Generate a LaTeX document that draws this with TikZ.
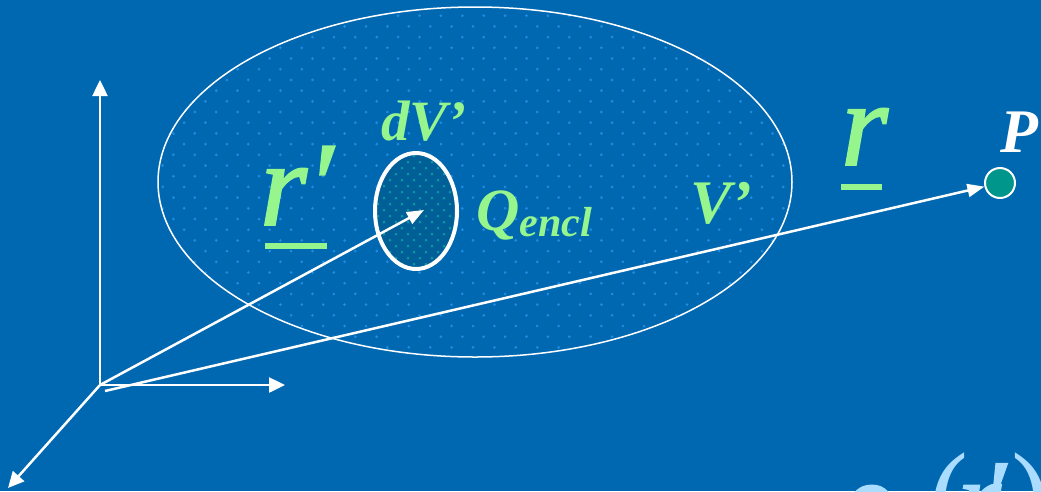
\documentclass[tikz,border=0pt]{standalone}
\usepackage{fontspec}
\setmainfont{Liberation Serif}
\newfontfamily\varfont[FakeBold=1.6]{Liberation Serif}
\usetikzlibrary{arrows.meta,shapes.geometric}
\definecolor{bgblue}{RGB}{0,103,177}
\definecolor{dotblue}{RGB}{30,140,225}
\definecolor{dotteal}{RGB}{15,150,165}
\definecolor{innerfill}{RGB}{0,95,150}
\definecolor{lblgreen}{RGB}{150,245,140}
\definecolor{lblblue}{RGB}{170,220,255}
\definecolor{pteal}{RGB}{0,150,140}
\tikzset{
  axisline/.style={white, line width=2.5pt, -{Triangle[width=15pt,length=16pt]}},
  vecline/.style={white, line width=2.5pt, -{Triangle[width=13pt,length=17pt]}},
  lbl/.style={inner sep=0pt, anchor=base west, text=lblgreen, font=\bfseries\itshape},
  bigvar/.style={inner sep=0pt, anchor=base west, text=lblgreen, font=\varfont\itshape\fontsize{120}{120}\selectfont},
  formula/.style={inner sep=0pt, anchor=base west, text=lblblue, font=\varfont\itshape\fontsize{112}{112}\selectfont},
  paren/.style={inner sep=0pt, anchor=base west, text=lblblue, font=\fontsize{120}{120}\selectfont},
  uline/.style={lblgreen, line width=6pt},
}
\begin{document}
\begin{tikzpicture}[x=1pt,y=-1pt]
\fill[bgblue] (0,0) rectangle (1041,491);
\useasboundingbox (0,0) rectangle (1041,491);
\clip (0,0) rectangle (1041,491);
% dotted volume V'
\begin{scope}
  \clip (475,182) ellipse [x radius=317, y radius=175];
  \foreach \j in {0,...,17} {
    \foreach \i in {0,...,30} {
      \fill[dotblue] (152+21.4*\i, 5+21.4*\j) circle (1.5);
      \fill[dotblue] (162.7+21.4*\i, 15.7+21.4*\j) circle (1.5);
    }
  }
\end{scope}
\node[draw=white, line width=1.5pt, ellipse, minimum width=634pt, minimum height=350pt, inner sep=0pt] (Vol) at (475,182) {};
% small volume dV'
\begin{scope}
  \clip (416,211) ellipse [x radius=41, y radius=58];
  \fill[innerfill] (370,150) rectangle (460,272);
  \foreach \j in {0,...,10} {
    \foreach \i in {0,...,8} {
      \fill[dotteal] (372+12*\i, 150+12*\j) circle (1.5);
      \fill[dotteal] (378+12*\i, 156+12*\j) circle (1.5);
    }
  }
\end{scope}
\node[draw=white, line width=4pt, ellipse, minimum width=82pt, minimum height=116pt, inner sep=0pt] (dV) at (416,211) {};
% point P
\node[draw=white, line width=2pt, circle, fill=pteal, minimum size=30pt, inner sep=0pt] (P) at (1000,183) {};
% axes
\coordinate (O) at (100,385);
\coordinate (yend) at (100,80);
\coordinate (xend) at (285,385);
\coordinate (zend) at (8,488);
\draw[axisline] (O) -- (yend);
\draw[axisline] (O) -- (xend);
\draw[axisline] (O) -- (zend);
% vectors
\coordinate (dVc) at (424,210);
\coordinate (rs) at (105,391);
\draw[vecline] (O) -- (dVc);
\draw[vecline] (rs) -- (P);
% labels
\node[bigvar] (rp) at (260,225) {r′};
\draw[uline] (265,246) -- (327,246);
\node[bigvar] (rv) at (841,165) {r};
\draw[uline] (841,187) -- (882,187);
\node[lbl, font=\bfseries\itshape\fontsize{57}{57}\selectfont] (dVl) at (381,140) {dV’};
\node[lbl, font=\bfseries\itshape\fontsize{60}{60}\selectfont] (Ql) at (476,230) {Q\raisebox{-6pt}{\fontsize{42}{42}\selectfont encl}};
\node[lbl, font=\bfseries\itshape\fontsize{62}{62}\selectfont] (Vl) at (690,223) {V’};
\node[lbl, text=white, font=\bfseries\itshape\fontsize{62}{62}\selectfont] (Pl) at (1000,152) {P};
% partial formula at bottom right
\node[formula] (rho) at (842,538) {ρ};
\node[formula, font=\varfont\itshape\fontsize{60}{60}\selectfont] (rhov) at (895,565) {v};
\node[paren] (lp) at (928,548) {\scalebox{1}[1.15]{(}};
\node[formula] (rin) at (957,537) {r};
\node[formula] (rinp) at (981,537) {′};
\node[paren] (rpar) at (1011,548) {\scalebox{1}[1.15]{)}};
\end{tikzpicture}
\end{document}
